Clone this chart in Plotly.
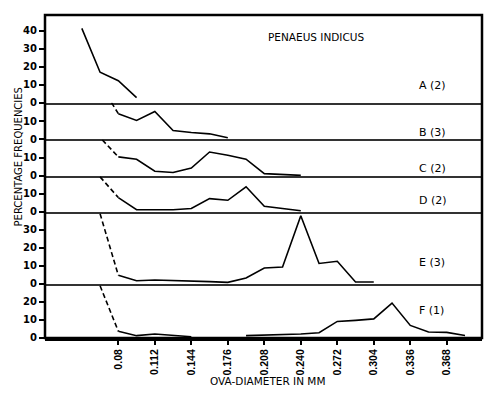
import plotly.graph_objects as go
from plotly.subplots import make_subplots

# ---- data ----
diameters = [0.048, 0.064, 0.080, 0.096, 0.112, 0.128, 0.144, 0.160, 0.176, 0.192, 0.208,
             0.224, 0.240, 0.256, 0.272, 0.288, 0.304, 0.320, 0.336, 0.352, 0.368, 0.384]
N = None
series_A = [41.3, 16.9, 12.2, 2.8, N, N, N, N, N, N, N, N, N, N, N, N, N, N, N, N, N, N]
series_B = [N, N, 14.1, 10.3, 15.3, 4.7, 3.6, 2.9, 0.7, N, N, N, N, N, N, N, N, N, N, N, N, N]
series_C = [N, N, 10.6, 9.3, 2.6, 1.9, 4.4, 13.3, 11.5, 9.3, 1.3, 0.6, 0.3, N, N, N, N, N, N, N, N, N]
series_D = [N, N, 8.0, 1.3, 1.2, 1.2, 1.9, 7.4, 6.5, 14.0, 3.2, 2.0, 0.7, N, N, N, N, N, N, N, N, N]
series_E = [N, N, 4.8, 1.8, 2.2, 2.0, 1.5, 1.3, 0.9, 3.3, 8.9, 9.4, 37.9, 11.4, 12.6, 1.1, 1.1, N, N, N, N, N]
series_F = [N, N, 3.7, 1.3, 2.2, 1.4, 0.7, N, N, 1.3, 1.5, 2.0, 2.2, 2.9, 9.2, 9.8, 10.6, 19.4, 7.0, 3.3, 3.1, 1.4]

panel_names = ["A (2)", "B (3)", "C (2)", "D (2)", "E (3)", "F (1)"]
panel_tops = [48.7, 20.2, 20.5, 20.0, 40.0, 30.0]
panel_yticks = [[0, 10, 20, 30, 40], [0, 10], [0, 10], [0, 10], [0, 10, 20, 30], [0, 10, 20]]
# dashed extrapolation: start diameter, start value (panel top), to the first measured point
dash_start_x = [None, 0.074, 0.066, 0.064, 0.064, 0.064]
dash_start_y = [None, 20.2, 20.0, 19.5, 39.0, 29.0]

x_tickvals = [0.080, 0.112, 0.144, 0.176, 0.208, 0.240, 0.272, 0.304, 0.336, 0.368]
x_ticktext = ["0.08", "0.112", "0.144", "0.176", "0.208", "0.240", "0.272", "0.304", "0.336", "0.368"]
x_range = [0.0157, 0.3989]

series = [series_A, series_B, series_C, series_D, series_E, series_F]

FONT = "DejaVu Sans"
FONT2 = "Liberation Sans"

fig = make_subplots(rows=6, cols=1, shared_xaxes=True, vertical_spacing=0,
                    row_heights=panel_tops)

for i, s in enumerate(series):
    r = i + 1
    fig.add_trace(go.Scatter(x=diameters, y=s, mode="lines",
                             line=dict(color="black", width=1.6),
                             connectgaps=False, showlegend=False), row=r, col=1)
    if dash_start_x[i] is not None:
        first = next(j for j, v in enumerate(s) if v is not None)
        fig.add_trace(go.Scatter(x=[dash_start_x[i], diameters[first]],
                                 y=[dash_start_y[i], s[first]], mode="lines",
                                 line=dict(color="black", width=1.6, dash="5px,3px"),
                                 showlegend=False), row=r, col=1)
    fig.update_yaxes(range=[0, panel_tops[i]], tickvals=panel_yticks[i],
                     ticktext=[str(v) for v in panel_yticks[i]],
                     ticks="outside", ticklen=5, tickwidth=1.5, tickcolor="black",
                     showgrid=False, zeroline=False, showline=False,
                     tickfont=dict(family=FONT, size=10, color="black", weight="bold"),
                     row=r, col=1)
    fig.update_xaxes(range=x_range, showgrid=False, zeroline=False,
                     showline=True, linecolor="#333", linewidth=1.5,
                     row=r, col=1)

fig.update_xaxes(tickvals=x_tickvals, ticktext=x_ticktext, tickangle=-90,
                 ticks="outside", ticklen=4, tickwidth=1.5, tickcolor="black",
                 showticklabels=True, linewidth=3, linecolor="black",
                 tickfont=dict(family=FONT2, size=10.5, color="black", weight="bold"),
                 row=6, col=1)

# outer frame
fig.add_shape(type="rect", xref="paper", yref="paper", x0=0, x1=1, y0=0, y1=1,
              line=dict(color="black", width=2.5), fillcolor="rgba(0,0,0,0)")

ann_y = [0.783, 0.636, 0.526, 0.427, 0.235, 0.085]
for name, yy in zip(panel_names, ann_y):
    fig.add_annotation(text=name, xref="paper", yref="paper", x=0.852, y=yy,
                       xanchor="left", yanchor="middle", showarrow=False,
                       font=dict(family=FONT, size=11, color="black"))

fig.add_annotation(text="PENAEUS INDICUS", xref="paper", yref="paper", x=0.62, y=0.932,
                   xanchor="center", yanchor="middle", showarrow=False,
                   font=dict(family=FONT, size=10.5, color="black"))
fig.add_annotation(text="PERCENTAGE FREQUENCIES", xref="paper", yref="paper",
                   x=-0.061, y=0.56, textangle=-90, xanchor="center", yanchor="middle",
                   showarrow=False, font=dict(family=FONT, size=10, color="black"))
fig.add_annotation(text="OVA-DIAMETER IN MM", xref="paper", yref="paper",
                   x=0.51, y=-0.132, xanchor="center", yanchor="middle",
                   showarrow=False, font=dict(family=FONT, size=10.5, color="black"))

# page body has an 8px margin: size the figure so the frame lands where it should
fig.update_layout(width=492, height=390, margin=dict(l=37, r=18, t=7, b=60),
                  paper_bgcolor="white", plot_bgcolor="white",
                  font=dict(family=FONT, color="black"))

fig.write_html("out.html")
